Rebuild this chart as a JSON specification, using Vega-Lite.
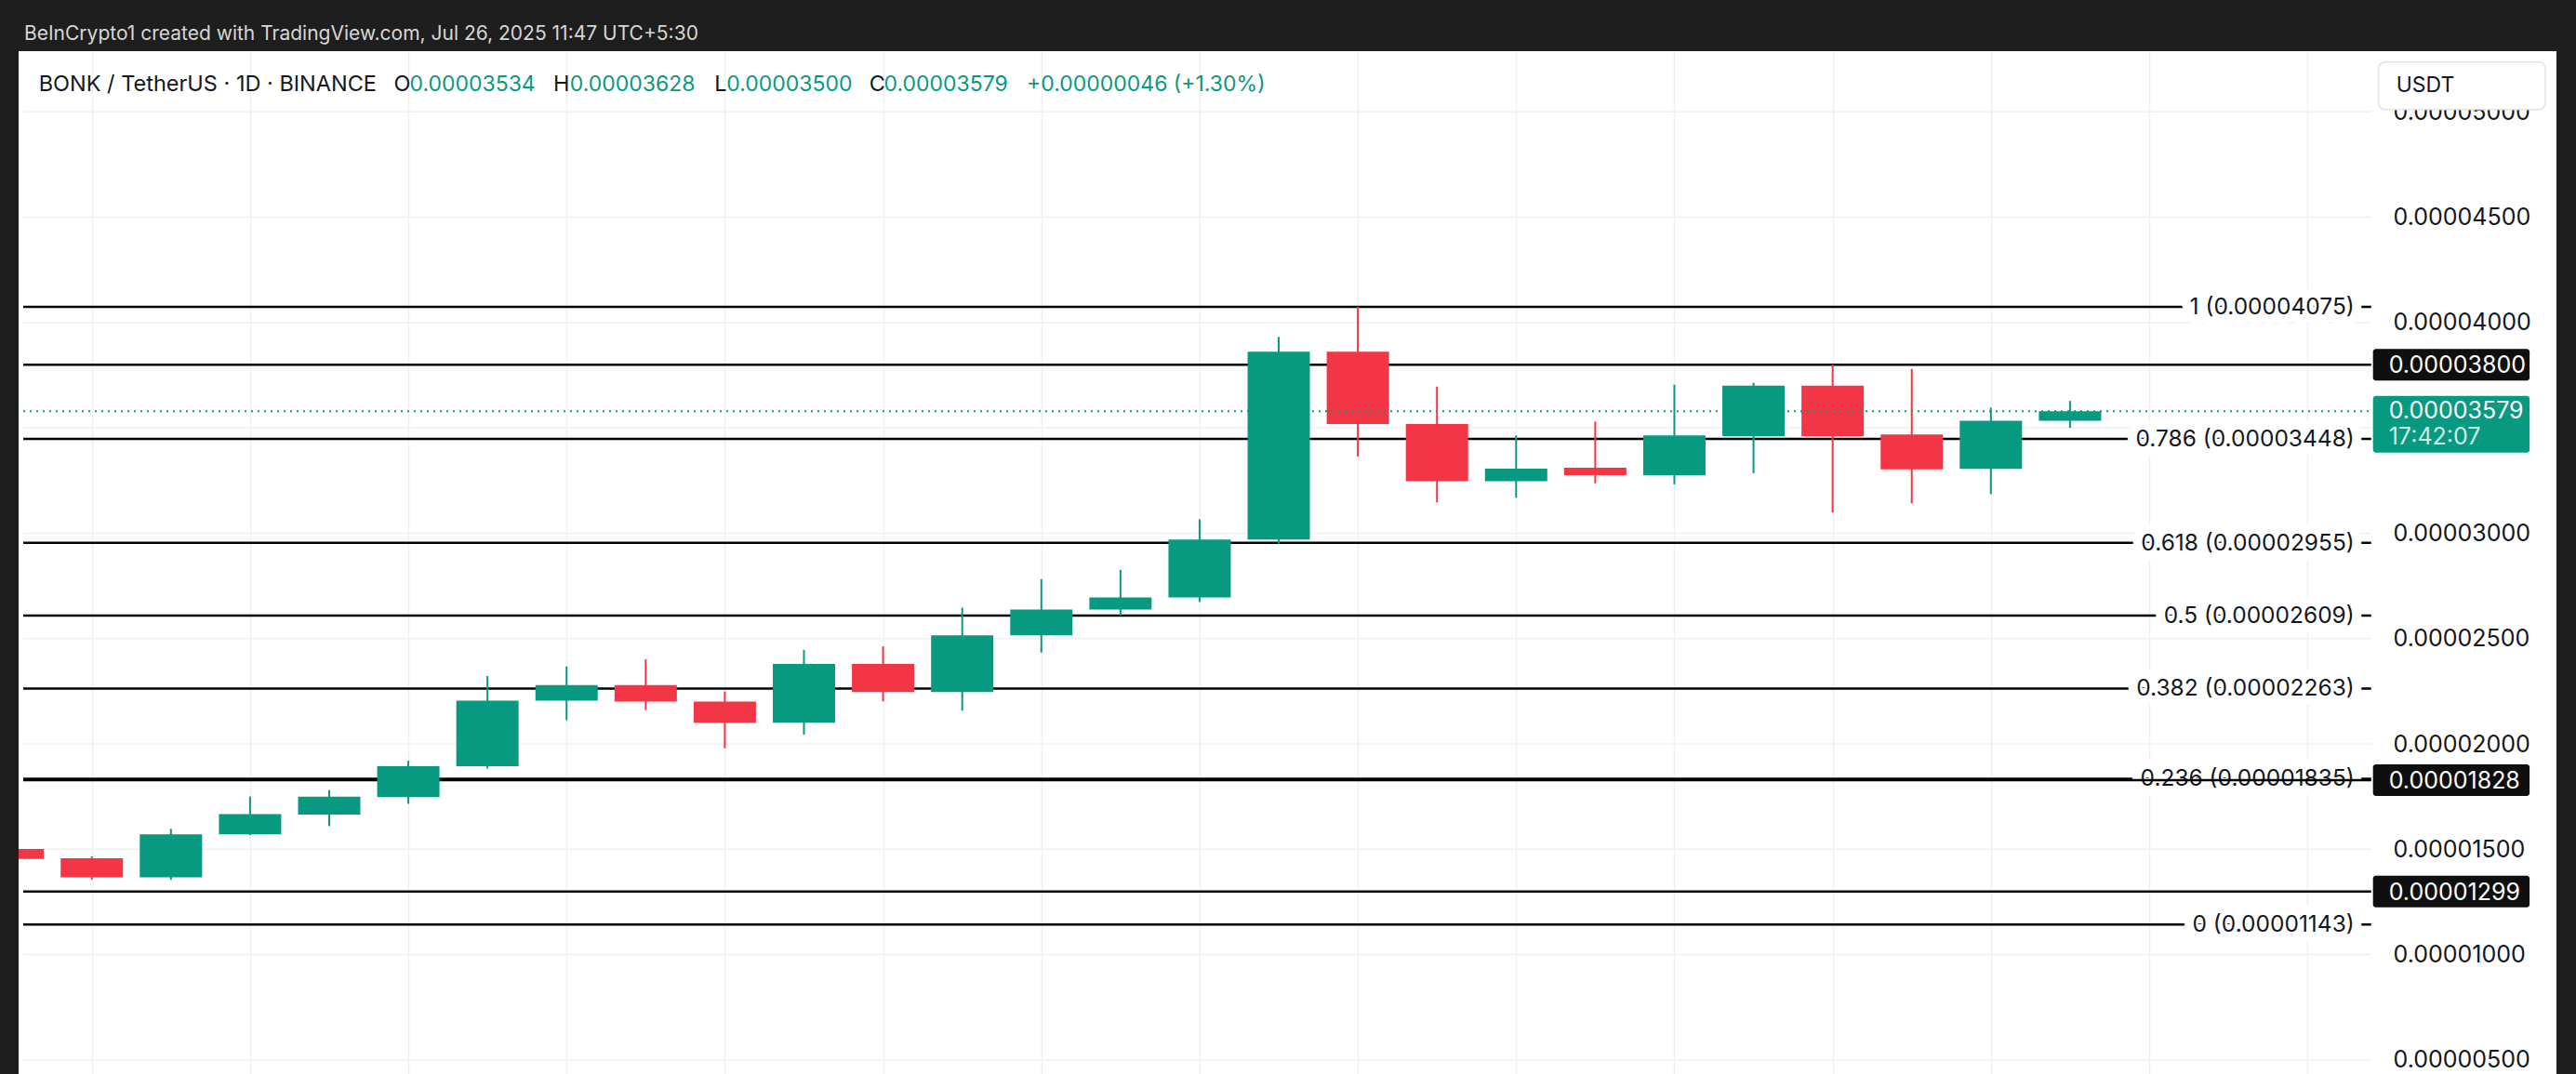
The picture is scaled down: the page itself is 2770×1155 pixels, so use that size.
{
  "$schema": "https://vega.github.io/schema/vega-lite/v6.json",
  "width": 2729,
  "height": 1100,
  "autosize": {"type": "none"},
  "padding": {"left": 20, "top": 55, "right": 21, "bottom": 0},
  "background": "#1e1e1e",
  "config": {"view": {"fill": "#ffffff", "stroke": null}, "font": "Inter"},
  "datasets": {
    "candles": [
      {"i": -1, "o": 0.00001501, "h": 0.00001510, "l": 0.00001440, "c": 0.00001454},
      {"i": 0, "o": 0.00001457, "h": 0.00001466, "l": 0.00001355, "c": 0.00001367},
      {"i": 1, "o": 0.00001367, "h": 0.00001597, "l": 0.00001355, "c": 0.00001571},
      {"i": 2, "o": 0.00001571, "h": 0.00001750, "l": 0.00001568, "c": 0.00001667},
      {"i": 3, "o": 0.00001665, "h": 0.00001781, "l": 0.00001610, "c": 0.00001750},
      {"i": 4, "o": 0.00001748, "h": 0.00001920, "l": 0.00001716, "c": 0.00001894},
      {"i": 5, "o": 0.00001894, "h": 0.00002322, "l": 0.00001883, "c": 0.00002205},
      {"i": 6, "o": 0.00002205, "h": 0.00002367, "l": 0.00002113, "c": 0.00002279},
      {"i": 7, "o": 0.00002279, "h": 0.00002402, "l": 0.00002161, "c": 0.00002201},
      {"i": 8, "o": 0.00002201, "h": 0.00002249, "l": 0.00001979, "c": 0.00002100},
      {"i": 9, "o": 0.00002100, "h": 0.00002446, "l": 0.00002044, "c": 0.00002380},
      {"i": 10, "o": 0.00002380, "h": 0.00002463, "l": 0.00002202, "c": 0.00002246},
      {"i": 11, "o": 0.00002246, "h": 0.00002647, "l": 0.00002158, "c": 0.00002515},
      {"i": 12, "o": 0.00002515, "h": 0.00002782, "l": 0.00002434, "c": 0.00002638},
      {"i": 13, "o": 0.00002638, "h": 0.00002826, "l": 0.00002609, "c": 0.00002695},
      {"i": 14, "o": 0.00002695, "h": 0.00003066, "l": 0.00002674, "c": 0.00002970},
      {"i": 15, "o": 0.00002970, "h": 0.00003932, "l": 0.00002950, "c": 0.00003862},
      {"i": 16, "o": 0.00003862, "h": 0.00004075, "l": 0.00003364, "c": 0.00003518},
      {"i": 17, "o": 0.00003518, "h": 0.00003696, "l": 0.00003146, "c": 0.00003247},
      {"i": 18, "o": 0.00003247, "h": 0.00003464, "l": 0.00003168, "c": 0.00003307},
      {"i": 19, "o": 0.00003311, "h": 0.00003530, "l": 0.00003237, "c": 0.00003276},
      {"i": 20, "o": 0.00003276, "h": 0.00003705, "l": 0.00003232, "c": 0.00003464},
      {"i": 21, "o": 0.00003461, "h": 0.00003714, "l": 0.00003285, "c": 0.00003700},
      {"i": 22, "o": 0.00003700, "h": 0.00003801, "l": 0.00003098, "c": 0.00003461},
      {"i": 23, "o": 0.00003469, "h": 0.00003780, "l": 0.00003142, "c": 0.00003303},
      {"i": 24, "o": 0.00003305, "h": 0.00003596, "l": 0.00003186, "c": 0.00003534},
      {"i": 25, "o": 0.00003534, "h": 0.00003628, "l": 0.00003500, "c": 0.00003579}
    ],
    "fib": [
      {"price": 0.00004075, "label": "1 (0.00004075)"},
      {"price": 0.00003448, "label": "0.786 (0.00003448)"},
      {"price": 0.00002955, "label": "0.618 (0.00002955)"},
      {"price": 0.00002609, "label": "0.5 (0.00002609)"},
      {"price": 0.00002263, "label": "0.382 (0.00002263)"},
      {"price": 0.00001835, "label": "0.236 (0.00001835)"},
      {"price": 0.00001143, "label": "0 (0.00001143)"}
    ],
    "hlines": [
      {"price": 0.00003800, "label": "0.00003800"},
      {"price": 0.00001828, "label": "0.00001828"},
      {"price": 0.00001299, "label": "0.00001299"}
    ],
    "ticks": [
      {"v": 0.000005}, {"v": 0.00001}, {"v": 0.000015}, {"v": 0.00002}, {"v": 0.000025},
      {"v": 0.00003}, {"v": 0.000035}, {"v": 0.00004}, {"v": 0.000045}, {"v": 0.00005}
    ],
    "one": [{}]
  },
  "layer": [
    {
      "data": {"name": "ticks"},
      "mark": {"type": "rule", "color": "#eef0f4", "strokeWidth": 1.5},
      "encoding": {
        "y": {
          "field": "v", "type": "quantitative",
          "scale": {"type": "linear", "domain": [0.000004554, 0.000052661], "nice": false, "zero": false},
          "axis": {
            "orient": "right", "offset": -195, "title": null,
            "values": [0.000005, 0.00001, 0.000015, 0.00002, 0.000025, 0.00003, 0.00004, 0.000045, 0.00005],
            "format": ".8f", "labelFont": "Inter", "labelFontSize": 25, "labelColor": "#131722",
            "ticks": false, "domain": false, "grid": false, "labelPadding": 19, "zindex": 0,
            "labelOverlap": false, "labelFlush": false
          }
        },
        "x": {
          "datum": -0.8665,
          "scale": {"type": "linear", "domain": [-0.8665, 31.089], "nice": false, "zero": false},
          "axis": {
            "orient": "bottom", "title": null,
            "values": [0, 2, 4, 6, 8, 10, 12, 14, 16, 18, 20, 22, 24, 26, 28],
            "grid": true, "gridColor": "#eef0f4", "gridWidth": 1.5,
            "labels": false, "ticks": false, "domain": false, "zindex": 0
          }
        },
        "x2": {"datum": 28.806}
      }
    },
    {
      "data": {"name": "fib"},
      "mark": {"type": "rule", "color": "#000000", "strokeWidth": 2.5},
      "encoding": {
        "y": {"field": "price", "type": "quantitative", "title": null},
        "x": {"datum": -0.8665},
        "x2": {"datum": 28.806}
      }
    },
    {
      "data": {"name": "fib"},
      "mark": {"type": "text", "align": "right", "baseline": "middle", "dx": -18, "dy": 1, "font": "Inter", "fontSize": 24.5, "fill": "#ffffff", "stroke": "#ffffff", "strokeWidth": 20, "strokeJoin": "round"},
      "encoding": {
        "y": {"field": "price", "type": "quantitative", "title": null},
        "x": {"datum": 28.806},
        "text": {"field": "label"}
      }
    },
    {
      "data": {"name": "fib"},
      "mark": {"type": "text", "align": "right", "baseline": "middle", "dx": -18, "dy": 1, "font": "Inter", "fontSize": 24.5, "fill": "#131722"},
      "encoding": {
        "y": {"field": "price", "type": "quantitative", "title": null},
        "x": {"datum": 28.806},
        "text": {"field": "label"}
      }
    },
    {
      "data": {"name": "hlines"},
      "mark": {"type": "rule", "color": "#000000", "strokeWidth": 2.5},
      "encoding": {
        "y": {"field": "price", "type": "quantitative", "title": null},
        "x": {"datum": -0.8665},
        "x2": {"datum": 28.806}
      }
    },
    {
      "data": {"name": "candles"},
      "mark": {"type": "rule", "strokeWidth": 2, "clip": true},
      "encoding": {
        "x": {"field": "i", "type": "quantitative", "title": null},
        "y": {"field": "l", "type": "quantitative", "title": null},
        "y2": {"field": "h"},
        "color": {"condition": {"test": "datum.c >= datum.o", "value": "#089981"}, "value": "#F23645"}
      }
    },
    {
      "data": {"name": "candles"},
      "mark": {"type": "bar", "width": 67, "clip": true},
      "encoding": {
        "x": {"field": "i", "type": "quantitative", "title": null},
        "y": {"field": "o", "type": "quantitative", "title": null},
        "y2": {"field": "c"},
        "color": {"condition": {"test": "datum.c >= datum.o", "value": "#089981"}, "value": "#F23645"}
      }
    },
    {
      "data": {"name": "one"},
      "mark": {"type": "rule", "color": "#089981", "strokeWidth": 2, "strokeDash": [2, 5]},
      "encoding": {
        "y": {"datum": 0.00003579},
        "x": {"datum": -0.8665},
        "x2": {"datum": 28.806}
      }
    },
    {
      "data": {"name": "hlines"},
      "mark": {"type": "bar", "height": 34, "cornerRadius": 3, "color": "#0f0f0f"},
      "encoding": {
        "y": {"field": "price", "type": "quantitative", "title": null},
        "x": {"datum": 28.829},
        "x2": {"datum": 30.808}
      }
    },
    {
      "data": {"name": "hlines"},
      "mark": {"type": "text", "align": "left", "baseline": "middle", "dx": 17, "dy": 1, "font": "Inter", "fontSize": 25, "fill": "#ffffff"},
      "encoding": {
        "y": {"field": "price", "type": "quantitative", "title": null},
        "x": {"datum": 28.829},
        "text": {"field": "label"}
      }
    },
    {
      "data": {"name": "one"},
      "mark": {"type": "bar", "height": 61, "yOffset": 14, "cornerRadius": 3, "color": "#089981"},
      "encoding": {
        "y": {"datum": 0.00003579},
        "x": {"datum": 28.829},
        "x2": {"datum": 30.808}
      }
    },
    {
      "data": {"name": "one"},
      "mark": {"type": "text", "align": "left", "baseline": "middle", "dx": 17, "dy": 0, "font": "Inter", "fontSize": 25, "fill": "#ffffff"},
      "encoding": {
        "y": {"datum": 0.00003579},
        "x": {"datum": 28.829},
        "text": {"value": "0.00003579"}
      }
    },
    {
      "data": {"name": "one"},
      "mark": {"type": "text", "align": "left", "baseline": "middle", "dx": 17, "dy": 28, "font": "Inter", "fontSize": 25, "fill": "#cdeee7"},
      "encoding": {
        "y": {"datum": 0.00003579},
        "x": {"datum": 28.829},
        "text": {"value": "17:42:07"}
      }
    },
    {
      "data": {"name": "one"},
      "mark": {"type": "rect", "fill": "#ffffff", "stroke": "#e0e3eb", "strokeWidth": 1.5, "cornerRadius": 7},
      "encoding": {
        "x": {"datum": 28.899},
        "x2": {"datum": 31.007},
        "y": {"datum": 0.000052368},
        "y2": {"datum": 0.00005011}
      }
    },
    {
      "data": {"name": "one"},
      "mark": {"type": "text", "align": "left", "baseline": "middle", "font": "Inter", "fontSize": 23, "fill": "#131722"},
      "encoding": {
        "x": {"datum": 29.122},
        "y": {"datum": 0.00005124},
        "text": {"value": "USDT"}
      }
    },
    {
      "data": {"name": "one"},
      "mark": {"type": "text", "align": "left", "baseline": "middle", "font": "Inter", "fontSize": 21, "fill": "#d6d6d6"},
      "encoding": {"x": {"datum": -0.8548}, "y": {"datum": 0.000053666}, "text": {"value": "BeInCrypto1 created with TradingView.com, Jul 26, 2025 11:47 UTC+5:30"}}
    },
    {
      "data": {"name": "one"},
      "mark": {"type": "text", "align": "left", "baseline": "alphabetic", "font": "Inter", "fontSize": 23.5, "fill": "#131722"},
      "encoding": {"x": {"datum": -0.671}, "y": {"datum": 0.000050986}, "text": {"value": "BONK / TetherUS · 1D · BINANCE"}}
    },
    {
      "data": {"name": "one"},
      "mark": {"type": "text", "align": "left", "baseline": "alphabetic", "font": "Inter", "fontSize": 23.5, "fill": "#131722"},
      "encoding": {"x": {"datum": 3.8173}, "y": {"datum": 0.000050986}, "text": {"value": "O"}}
    },
    {
      "data": {"name": "one"},
      "mark": {"type": "text", "align": "left", "baseline": "alphabetic", "font": "Inter", "fontSize": 23, "fill": "#089981"},
      "encoding": {"x": {"datum": 4.0164}, "y": {"datum": 0.000050986}, "text": {"value": "0.00003534"}}
    },
    {
      "data": {"name": "one"},
      "mark": {"type": "text", "align": "left", "baseline": "alphabetic", "font": "Inter", "fontSize": 23.5, "fill": "#131722"},
      "encoding": {"x": {"datum": 5.8314}, "y": {"datum": 0.000050986}, "text": {"value": "H"}}
    },
    {
      "data": {"name": "one"},
      "mark": {"type": "text", "align": "left", "baseline": "alphabetic", "font": "Inter", "fontSize": 23, "fill": "#089981"},
      "encoding": {"x": {"datum": 6.0422}, "y": {"datum": 0.000050986}, "text": {"value": "0.00003628"}}
    },
    {
      "data": {"name": "one"},
      "mark": {"type": "text", "align": "left", "baseline": "alphabetic", "font": "Inter", "fontSize": 23.5, "fill": "#131722"},
      "encoding": {"x": {"datum": 7.8689}, "y": {"datum": 0.000050986}, "text": {"value": "L"}}
    },
    {
      "data": {"name": "one"},
      "mark": {"type": "text", "align": "left", "baseline": "alphabetic", "font": "Inter", "fontSize": 23, "fill": "#089981"},
      "encoding": {"x": {"datum": 8.0211}, "y": {"datum": 0.000050986}, "text": {"value": "0.00003500"}}
    },
    {
      "data": {"name": "one"},
      "mark": {"type": "text", "align": "left", "baseline": "alphabetic", "font": "Inter", "fontSize": 23.5, "fill": "#131722"},
      "encoding": {"x": {"datum": 9.8244}, "y": {"datum": 0.000050986}, "text": {"value": "C"}}
    },
    {
      "data": {"name": "one"},
      "mark": {"type": "text", "align": "left", "baseline": "alphabetic", "font": "Inter", "fontSize": 23, "fill": "#089981"},
      "encoding": {"x": {"datum": 10.0117}, "y": {"datum": 0.000050986}, "text": {"value": "0.00003579"}}
    },
    {
      "data": {"name": "one"},
      "mark": {"type": "text", "align": "left", "baseline": "alphabetic", "font": "Inter", "fontSize": 23, "fill": "#089981"},
      "encoding": {"x": {"datum": 11.815}, "y": {"datum": 0.000050986}, "text": {"value": "+0.00000046 (+1.30%)"}}
    }
  ]
}
